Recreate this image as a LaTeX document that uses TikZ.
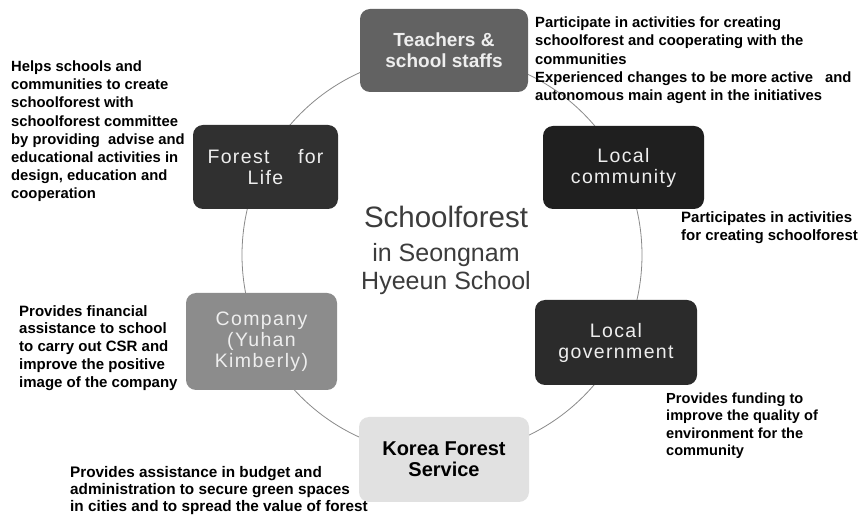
\documentclass[tikz,border=0pt]{standalone}
\usepackage{fontspec}
\setmainfont{Liberation Sans}
\newfontfamily\trackedfont[LetterSpace=7]{Liberation Sans}
\definecolor{ringgray}{HTML}{8A8A8A}
\definecolor{boxtext}{HTML}{EEEEEE}
\definecolor{teachfill}{HTML}{626262}
\definecolor{commfill}{HTML}{1F1F1F}
\definecolor{govfill}{HTML}{2B2B2B}
\definecolor{kfsfill}{HTML}{E1E1E1}
\definecolor{compfill}{HTML}{8C8C8C}
\definecolor{fflfill}{HTML}{303030}
\definecolor{titlegray}{HTML}{3C3C3C}
\begin{document}
\begin{tikzpicture}[x=1pt,y=-1pt,
  actor/.style={rounded corners=10pt, inner sep=0pt, align=center, text=boxtext},
  regularlabel/.style={font=\trackedfont\fontsize{19.5}{21}\selectfont},
  boldlabel/.style={font=\fontsize{19}{21}\selectfont\bfseries},
  note/.style={anchor=north west, inner sep=0pt, align=left},
  title/.style={anchor=base, inner sep=0pt, text=titlegray},
]
\useasboundingbox[fill=white] (0,0) rectangle (863,518);

% ring joining the partners
\draw[ringgray, line width=0.8pt] (442,255) circle[radius=200pt];

% partners
\node[actor, boldlabel, fill=teachfill, minimum width=168pt, minimum height=83pt]
  (teachers) at (444,50.5) {Teachers \&\\school staffs};
\node[actor, regularlabel, fill=commfill, minimum width=161pt, minimum height=83pt]
  (community) at (623.5,167.5) {Local\\community};
\node[actor, regularlabel, fill=govfill, minimum width=162pt, minimum height=85pt]
  (government) at (616,342.5) {Local\\government};
\node[actor, boldlabel, font=\fontsize{20}{21}\selectfont\bfseries, text=black, fill=kfsfill,
  minimum width=170pt, minimum height=85pt]
  (kfs) at (444,459.5) {Korea Forest\\Service};
\node[actor, regularlabel, fill=compfill, minimum width=151pt, minimum height=97pt]
  (company) at (261.5,341.5) {Company\\(Yuhan\\Kimberly)};
\node[actor, regularlabel, fill=fflfill, minimum width=145pt, minimum height=84pt]
  (ffl) at (265.5,167) {\makebox[116pt]{Forest\hfill for}\\Life};

% centre title
\node[title, font=\fontsize{29.5}{30}\selectfont] (title1) at (446,228) {Schoolforest};
\node[title, font=\fontsize{25}{26}\selectfont] (title2) at (446,262) {in Seongnam};
\node[title, font=\fontsize{25}{26}\selectfont] (title3) at (446,290) {Hyeeun School};

% roles
\node[note, font=\fontsize{14.8}{18.2}\selectfont\bfseries] (roleffl) at (11,60.5)
  {Helps schools and\\communities to create\\schoolforest with\\schoolforest committee\\by providing\ \ advise and\\educational activities in\\design, education and\\cooperation};
\node[note, font=\fontsize{14.8}{18.3}\selectfont\bfseries] (roleteach) at (535,16.5)
  {Participate in activities for creating\\schoolforest and cooperating with the\\communities\\Experienced changes to be more active\hspace{12pt}and\\autonomous main agent in the initiatives};
\node[note, font=\fontsize{15}{18.8}\selectfont\bfseries] (rolecomm) at (681,211)
  {Participates in activities\\for creating schoolforest};
\node[note, font=\fontsize{15}{17.9}\selectfont\bfseries] (rolecomp) at (19,305)
  {Provides financial\\assistance to school\\to carry out CSR and\\improve the positive\\image of the company};
\node[note, font=\fontsize{14.6}{17.5}\selectfont\bfseries] (rolegov) at (666,392.5)
  {Provides funding to\\improve the quality of\\environment for the\\community};
\node[note, font=\fontsize{15.3}{16.7}\selectfont\bfseries] (rolekfs) at (70,466.5)
  {Provides assistance in budget and\\administration to secure green spaces\\in cities and to spread the value of forest};
\end{tikzpicture}
\end{document}
